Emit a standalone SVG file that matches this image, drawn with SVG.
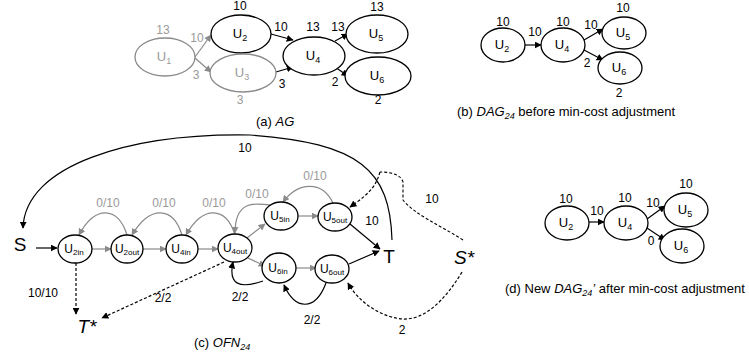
<svg xmlns="http://www.w3.org/2000/svg" width="749" height="356" viewBox="0 0 749 356">
<defs>
<marker id="ab" viewBox="0 0 10 10" refX="9" refY="5" markerWidth="7" markerHeight="7" markerUnits="userSpaceOnUse" orient="auto"><path d="M0,0 L10,5 L0,10 z" fill="#000"/></marker>
<marker id="ag" viewBox="0 0 10 10" refX="9" refY="5" markerWidth="7" markerHeight="7" markerUnits="userSpaceOnUse" orient="auto"><path d="M0,0 L10,5 L0,10 z" fill="#8a8a8a"/></marker>
</defs>
<style>
text{font-family:"Liberation Sans",Arial,sans-serif;font-size:12px;fill:#000}
.g{fill:#9a9a9a}
.n{fill:#fff;stroke:#000;stroke-width:1.3}
.ng{fill:#fff;stroke:#8a8a8a;stroke-width:1.3}
.nl{font-size:13px;text-anchor:middle}
.sl{font-size:12px;text-anchor:middle}
.c{text-anchor:middle}
.cap{font-size:13px}
.e{fill:none;stroke:#000;stroke-width:1.2;marker-end:url(#ab)}
.eg{fill:none;stroke:#8a8a8a;stroke-width:1.2;marker-end:url(#ag)}
.d{stroke-dasharray:3,2}
.big{font-size:19px;text-anchor:middle}
.it{font-style:italic}
</style>
<rect width="749" height="356" fill="#fff"/>
<g id="connectors">
<path class="eg" d="M195,57 L211,35"/>
<path class="eg" d="M195,58 L211,72"/>
<path class="e" d="M271,34 L293,40"/>
<path class="e" d="M276,72 L293,67"/>
<path class="e" d="M335,41 L348,34"/>
<path class="e" d="M335,67 L348,76"/>
<path class="e" d="M525,45 L541,45"/>
<path class="e" d="M584,40 L603,29"/>
<path class="e" d="M584,50 L603,60"/>
<path class="e" d="M589,222 L604,222"/>
<path class="e" d="M647,219 L665,206"/>
<path class="e" d="M647,228 L665,240"/>
<path class="e" d="M392,240 C390,170 360,143 250,135 C130,133 25,165 23,228"/>
<path class="e" d="M36,248 L57,248"/>
<path class="eg" d="M92,249 L111,249"/>
<path class="eg" d="M143,249 L166,249"/>
<path class="eg" d="M198,249 L218,249"/>
<path class="eg" d="M247,238 L265,224"/>
<path class="eg" d="M248,258 L265,266"/>
<path class="eg" d="M298,216 L318,216"/>
<path class="eg" d="M296,268 L316,268"/>
<path class="eg" d="M127,235 C118,206 95,205 79,235"/>
<path class="eg" d="M182,235 C173,206 150,205 132,235"/>
<path class="eg" d="M235,235 C226,206 203,205 186,235"/>
<path class="eg" d="M270,205 C255,203 235,200 235,233"/>
<path class="eg" d="M333,203 C322,180 298,182 283,202"/>
<path class="e" d="M350,224 L380,249"/>
<path class="e" d="M349,264 L379,251"/>
<path class="e" d="M263,281 C240,289 228,285 233,262"/>
<path class="e" d="M326,283 C315,312 295,310 284,285"/>
<path class="e d" d="M76,263 L76,314"/>
<path class="e d" d="M224,262 L102,318"/>
<path class="e d" d="M380,172 C376,185 372,192 350,207"/>
<path class="d" fill="none" stroke="#000" stroke-width="1.1" d="M463,240 C440,225 415,215 403,200 L403,182 C401,175 392,172 380,172"/>
<path class="e d" d="M462,272 C445,300 425,320 403,319 C385,318 360,305 348,283"/>
</g>
<g id="a-U1"><ellipse class="ng" cx="165" cy="57" rx="30" ry="19"/><text class="nl g" x="164" y="61">U<tspan font-size="9" dy="3">1</tspan></text></g>
<g id="a-U2"><ellipse class="n" cx="241" cy="34" rx="30" ry="19"/><text class="nl" x="240" y="38">U<tspan font-size="9" dy="3">2</tspan></text></g>
<g id="a-U3"><ellipse class="ng" cx="243" cy="73" rx="33" ry="19"/><text class="nl g" x="242" y="77">U<tspan font-size="9" dy="3">3</tspan></text></g>
<g id="a-U4"><ellipse class="n" cx="314" cy="56" rx="31" ry="19"/><text class="nl" x="313" y="60">U<tspan font-size="9" dy="3">4</tspan></text></g>
<g id="a-U5"><ellipse class="n" cx="377" cy="34" rx="31" ry="19"/><text class="nl" x="376" y="38">U<tspan font-size="9" dy="3">5</tspan></text></g>
<g id="a-U6"><ellipse class="n" cx="378" cy="76" rx="33" ry="19"/><text class="nl" x="377" y="80">U<tspan font-size="9" dy="3">6</tspan></text></g>
<g id="a-labels">
<text class="c g" x="163" y="34">13</text>
<text class="c g" x="197" y="42">10</text>
<text class="c g" x="196" y="79">3</text>
<text class="c g" x="240" y="104">3</text>
<text class="c" x="240" y="10">10</text>
<text class="c" x="281" y="31">10</text>
<text class="c" x="313" y="31">13</text>
<text class="c" x="338" y="31">13</text>
<text class="c" x="282" y="88">3</text>
<text class="c" x="335" y="86">2</text>
<text class="c" x="377" y="11">13</text>
<text class="c" x="378" y="104">2</text>
<text class="cap" x="256" y="126">(a) <tspan class="it">AG</tspan></text>
</g>
<g id="b-U2"><ellipse class="n" cx="503" cy="45" rx="22" ry="17"/><text class="nl" x="502" y="49">U<tspan font-size="9" dy="3">2</tspan></text></g>
<g id="b-U4"><ellipse class="n" cx="563" cy="45" rx="22" ry="17"/><text class="nl" x="562" y="49">U<tspan font-size="9" dy="3">4</tspan></text></g>
<g id="b-U5"><ellipse class="n" cx="624" cy="33" rx="22" ry="16"/><text class="nl" x="623" y="37">U<tspan font-size="9" dy="3">5</tspan></text></g>
<g id="b-U6"><ellipse class="n" cx="620" cy="68" rx="22" ry="16"/><text class="nl" x="619" y="72">U<tspan font-size="9" dy="3">6</tspan></text></g>
<g id="b-labels">
<text class="c" x="503" y="26">10</text>
<text class="c" x="535" y="36">10</text>
<text class="c" x="563" y="26">10</text>
<text class="c" x="591" y="29">10</text>
<text class="c" x="623" y="12">10</text>
<text class="c" x="587" y="67">2</text>
<text class="c" x="619" y="97">2</text>
<text class="cap" x="457" y="116">(b) <tspan class="it">DAG<tspan font-size="9" dy="3">24</tspan></tspan><tspan dy="-3"> before min-cost adjustment</tspan></text>
</g>
<g id="d-U2"><ellipse class="n" cx="567" cy="223" rx="22" ry="17"/><text class="nl" x="566" y="227">U<tspan font-size="9" dy="3">2</tspan></text></g>
<g id="d-U4"><ellipse class="n" cx="626" cy="223" rx="22" ry="17"/><text class="nl" x="625" y="227">U<tspan font-size="9" dy="3">4</tspan></text></g>
<g id="d-U5"><ellipse class="n" cx="686" cy="210" rx="22" ry="17"/><text class="nl" x="685" y="214">U<tspan font-size="9" dy="3">5</tspan></text></g>
<g id="d-U6"><ellipse class="n" cx="682" cy="246" rx="22" ry="17"/><text class="nl" x="681" y="250">U<tspan font-size="9" dy="3">6</tspan></text></g>
<g id="d-labels">
<text class="c" x="566" y="203">10</text>
<text class="c" x="597" y="215">10</text>
<text class="c" x="625" y="202">10</text>
<text class="c" x="653" y="207">10</text>
<text class="c" x="686" y="188">10</text>
<text class="c" x="651" y="245">0</text>
<text class="cap" x="505" y="293">(d) New <tspan class="it">DAG<tspan font-size="9" dy="3">24</tspan><tspan dy="-3">’</tspan></tspan> after min-cost adjustment</text>
</g>
<g id="c-S"><text class="big" x="20" y="251">S</text></g>
<g id="c-T"><text class="big" x="389" y="263">T</text></g>
<g id="c-Sstar"><text class="big it" x="464" y="264">S*</text></g>
<g id="c-Tstar"><text class="big it" x="87" y="333">T*</text></g>
<g id="c-U2in"><ellipse class="n" cx="75" cy="249" rx="17" ry="14"/><text class="sl" x="74" y="253">U<tspan font-size="8" dy="2">2in</tspan></text></g>
<g id="c-U2out"><ellipse class="n" cx="127" cy="249" rx="16" ry="14"/><text class="sl" x="127" y="253">U<tspan font-size="8" dy="2">2out</tspan></text></g>
<g id="c-U4in"><ellipse class="n" cx="182" cy="249" rx="16" ry="14"/><text class="sl" x="181" y="253">U<tspan font-size="8" dy="2">4in</tspan></text></g>
<g id="c-U4out"><ellipse class="n" cx="235" cy="248" rx="17" ry="14"/><text class="sl" x="235" y="252">U<tspan font-size="8" dy="2">4out</tspan></text></g>
<g id="c-U5in"><ellipse class="n" cx="281" cy="216" rx="17" ry="14"/><text class="sl" x="280" y="220">U<tspan font-size="8" dy="2">5in</tspan></text></g>
<g id="c-U5out"><ellipse class="n" cx="335" cy="217" rx="17" ry="14"/><text class="sl" x="335" y="221">U<tspan font-size="8" dy="2">5out</tspan></text></g>
<g id="c-U6in"><ellipse class="n" cx="279" cy="268" rx="17" ry="15"/><text class="sl" x="278" y="272">U<tspan font-size="8" dy="2">6in</tspan></text></g>
<g id="c-U6out"><ellipse class="n" cx="332" cy="269" rx="17" ry="14"/><text class="sl" x="332" y="273">U<tspan font-size="8" dy="2">6out</tspan></text></g>
<g id="c-labels">
<text class="c" x="245" y="152">10</text>
<text class="c g" x="108" y="207">0/10</text>
<text class="c g" x="164" y="207">0/10</text>
<text class="c g" x="214" y="207">0/10</text>
<text class="c g" x="257" y="198">0/10</text>
<text class="c g" x="315" y="180">0/10</text>
<text class="c" x="372" y="225">10</text>
<text class="c" x="432" y="203">10</text>
<text class="c" x="43" y="297">10/10</text>
<text class="c" x="163" y="302">2/2</text>
<text class="c" x="240" y="301">2/2</text>
<text class="c" x="312" y="324">2/2</text>
<text class="c" x="402" y="334">2</text>
<text class="cap" x="194" y="347">(c) <tspan class="it">OFN<tspan font-size="9" dy="3">24</tspan></tspan></text>
</g>
</svg>
